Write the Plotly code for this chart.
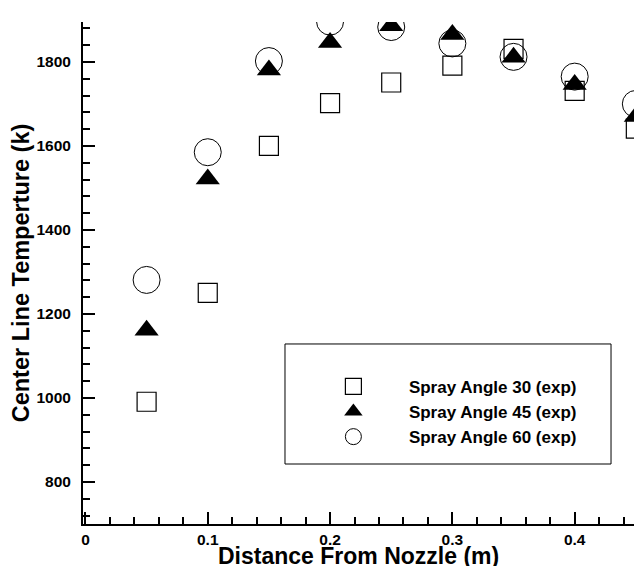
import plotly.graph_objects as go

distance = [0.05, 0.10, 0.15, 0.20, 0.25, 0.30, 0.35, 0.40, 0.45]
temp_30 = [991, 1250, 1600, 1702, 1751, 1791, 1831, 1731, 1641]
temp_45 = [1161, 1521, 1781, 1846, 1886, 1865, 1811, 1746, 1670]
temp_60 = [1281, 1585, 1802, 1896, 1883, 1844, 1812, 1765, 1700]
names = ["Spray Angle 30 (exp)", "Spray Angle 45 (exp)", "Spray Angle 60 (exp)"]
x_title = "Distance From Nozzle (m)"
y_title = "Center Line Temperture (k)"

FONT = "Liberation Sans, Arial, sans-serif"

fig = go.Figure()
fig.add_trace(go.Scatter(
    x=distance, y=temp_30, mode="markers", name=names[0],
    marker=dict(symbol="square-open", size=19, color="black", line=dict(width=1.2, color="black")),
))
fig.add_trace(go.Scatter(
    x=distance, y=temp_45, mode="markers", name=names[1],
    marker=dict(symbol="triangle-up", size=21, color="black", line=dict(width=0)),
))
fig.add_trace(go.Scatter(
    x=distance, y=temp_60, mode="markers", name=names[2],
    marker=dict(symbol="circle-open", size=27, color="black", line=dict(width=1, color="black")),
))

axis_common = dict(
    showgrid=False, zeroline=False, showline=True, linecolor="black", linewidth=2,
    ticks="inside", ticklen=12, tickwidth=2, tickcolor="black",
    tickfont=dict(family=FONT, size=15.5, color="black", weight="bold"),
)

fig.update_layout(
    width=634, height=566,
    margin=dict(l=83, r=0, t=22, b=42),
    paper_bgcolor="white", plot_bgcolor="white",
    xaxis=dict(
        range=[-0.002, 0.4485], tick0=0, dtick=0.1,
        minor=dict(dtick=0.02, ticks="inside", ticklen=7, tickwidth=2, tickcolor="black"),
        ticklabelstandoff=0,
        **axis_common,
    ),
    yaxis=dict(
        range=[700, 1895], tick0=0, dtick=200,
        minor=dict(dtick=40, ticks="inside", ticklen=7, tickwidth=2, tickcolor="black"),
        ticklabelstandoff=7,
        title=dict(text=y_title, standoff=0,
                   font=dict(family=FONT, size=23.5, color="black", weight="bold")),
        **axis_common,
    ),
    annotations=[dict(text=x_title, xref="paper", yref="paper", x=0.5, y=0,
                      xanchor="center", yanchor="top", yshift=-17, showarrow=False,
                      font=dict(family=FONT, size=23, color="black", weight="bold"))],
    showlegend=True,
    legend=dict(
        x=0.39, y=0.309, xanchor="left", yanchor="top",
        bgcolor="rgba(0,0,0,0)", borderwidth=0,
        itemwidth=101, tracegroupgap=0,
        font=dict(family=FONT, size=17, color="black", weight="bold"),
    ),
    shapes=[dict(type="rect", xref="paper", yref="paper",
                 x0=0.3666, x1=0.9583, y0=0.1195, y1=0.3586,
                 line=dict(color="black", width=1), fillcolor="rgba(0,0,0,0)")],
)

fig.write_html("out.html")
